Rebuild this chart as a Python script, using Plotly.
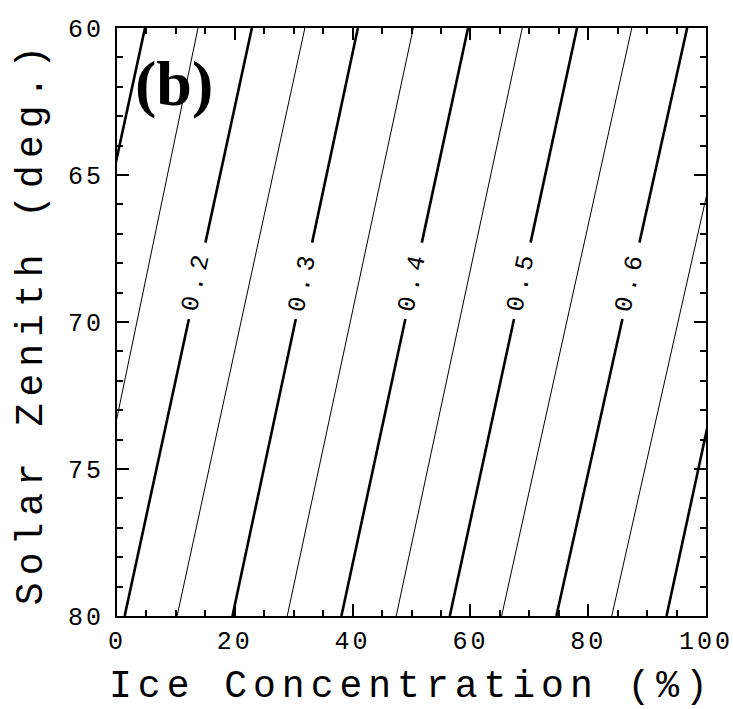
import math
import plotly.graph_objects as go

# Contour levels of albedo over ice concentration (%) and solar zenith (deg.)
levels = [0.10, 0.15, 0.20, 0.25, 0.30, 0.35, 0.40, 0.45, 0.50, 0.55, 0.60, 0.65, 0.70]
# Ice concentration where each contour meets zenith 80 deg and zenith 60 deg
ice_at_80 = [-16.9, -7.0, 1.3, 10.2, 19.6, 28.9, 38.1, 47.4, 56.5, 65.3, 74.6, 84.0, 93.3]
ice_at_60 = [4.75, 13.75, 22.9, 31.9, 40.9, 50.3, 59.6, 68.8, 78.1, 87.4, 96.8, 106.5, 114.9]
# Which contours are drawn heavy and carry a label
major = [True, False, True, False, True, False, True, False, True, False, True, False, True]
labelled = [0.2, 0.3, 0.4, 0.5, 0.6]

x_ticks = [0, 20, 40, 60, 80, 100]
y_ticks = [60, 65, 70, 75, 80]

# zenith band kept clear for the contour labels
gap_lo, gap_hi, label_zen = 67.3, 69.9, 68.6

MONO = "Liberation Mono"
W, H = 733, 709
M = dict(l=117, r=27, t=28, b=93)
PW = W - M["l"] - M["r"]
PH = H - M["t"] - M["b"]


def ice_at(i, zen):
    a, b = ice_at_80[i], ice_at_60[i]
    return a + (80 - zen) / 20 * (b - a)


def spaced(text, px):
    return f'<span style="letter-spacing:{px}px">{text}</span>'


fig = go.Figure()
annotations = []
for i, lev in enumerate(levels):
    width = 2.6 if major[i] else 1.0
    has_label = any(abs(lev - l) < 1e-9 for l in labelled)
    segs = [(80, gap_hi), (gap_lo, 60)] if has_label else [(80, 60)]
    for z0, z1 in segs:
        fig.add_trace(go.Scatter(
            x=[ice_at(i, z0), ice_at(i, z1)], y=[z0, z1],
            mode="lines", line=dict(color="black", width=width),
            hoverinfo="skip", showlegend=False,
        ))
    if has_label:
        dx = (ice_at_60[i] - ice_at_80[i]) / 100 * PW
        ang = math.degrees(math.atan2(PH, dx))
        annotations.append(dict(
            x=ice_at(i, label_zen), y=label_zen, xref="x", yref="y",
            text=spaced(f"{lev:.1f}", 6),
            textangle=-ang, showarrow=False,
            xanchor="center", yanchor="middle",
            font=dict(family=MONO, size=25, color="black"),
        ))

annotations.append(dict(
    x=0.097, y=0.905, xref="paper", yref="paper", text="<b>(b)</b>", showarrow=False,
    xanchor="center", yanchor="middle",
    font=dict(family="Liberation Serif", size=64, color="black"),
))

axis_common = dict(
    showline=True, linecolor="black", linewidth=2, mirror="allticks",
    ticks="inside", ticklen=12, tickwidth=1.5, tickcolor="black",
    showgrid=False, zeroline=False, automargin=False,
    ticklabeloverflow="allow",
    tickfont=dict(family=MONO, size=25, color="black"),
)

fig.update_layout(
    width=W, height=H, margin=M,
    paper_bgcolor="white", plot_bgcolor="white",
    annotations=annotations,
    xaxis=dict(
        range=[0, 100], tickvals=x_ticks,
        ticktext=[spaced(v, 3) for v in x_ticks],
        minor=dict(dtick=5, ticks="inside", ticklen=6, tickcolor="black"),
        ticklabelstandoff=1,
        title=dict(text=spaced("Ice Concentration (%)", 6),
                   font=dict(family=MONO, size=38, color="black"), standoff=14),
        **axis_common,
    ),
    yaxis=dict(
        range=[80, 60], tickvals=y_ticks,
        ticktext=[spaced(v, 3) for v in y_ticks],
        minor=dict(dtick=1, ticks="inside", ticklen=6, tickcolor="black"),
        ticklabelstandoff=6,
        title=dict(text=spaced("Solar Zenith (deg.)", 7),
                   font=dict(family=MONO, size=38, color="black"), standoff=14),
        **axis_common,
    ),
)

fig.write_html("out.html")
